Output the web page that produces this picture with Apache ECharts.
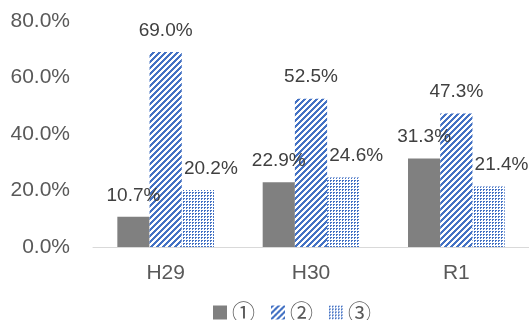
<!DOCTYPE html>
<html>
<head>
<meta charset="utf-8">
<script src="https://cdn.jsdelivr.net/npm/echarts@6/dist/echarts.min.js"></script>
<style>
html,body{margin:0;padding:0;background:#fff;}
#chart{width:529px;height:320px;}
</style>
</head>
<body>
<div id="chart"></div>
<script>
const categories = ['H29', 'H30', 'R1'];
const seriesNames = ['①', '②', '③'];
const values1 = [10.7, 22.9, 31.3];
const values2 = [69.0, 52.5, 47.3];
const values3 = [20.2, 24.6, 21.4];
const yTicks = [0, 20, 40, 60, 80];

const BLUE = '#4472C4';
function stripePattern() {
  const c = document.createElement('canvas');
  c.width = 6; c.height = 6;
  const ctx = c.getContext('2d');
  ctx.fillStyle = '#fff'; ctx.fillRect(0, 0, 6, 6);
  ctx.fillStyle = BLUE;
  for (let x = 0; x < 6; x++) for (let y = 0; y < 6; y++) {
    if ((x + y) % 6 < 3) ctx.fillRect(x, y, 1, 1);
  }
  return c;
}
function dotPattern() {
  const c = document.createElement('canvas');
  c.width = 3; c.height = 3;
  const ctx = c.getContext('2d');
  ctx.fillStyle = '#fff'; ctx.fillRect(0, 0, 3, 3);
  ctx.fillStyle = BLUE;
  ctx.fillRect(0, 0, 2, 1);
  ctx.fillRect(0, 1, 1, 1);
  return c;
}

const FONT = 'Liberation Sans';
const chart = echarts.init(document.getElementById('chart'));
const labelBase = {
  show: true, position: 'top', distance: 12,
  fontSize: 19, color: '#404040', fontFamily: FONT,
  formatter: p => p.value.toFixed(1) + '%'
};
chart.setOption({
  animation: false,
  backgroundColor: '#fff',
  grid: { left: 93, right: 0, top: 21, bottom: 73 },
  legend: {
    left: 208, top: 296,
    itemWidth: 14, itemHeight: 14, itemGap: 16,
    icon: 'rect',
    textStyle: { fontSize: 23, color: '#595959', fontFamily: 'Noto Sans CJK JP' },
    data: seriesNames
  },
  xAxis: {
    type: 'category', data: categories,
    axisLine: { lineStyle: { color: '#D9D9D9', width: 1 } },
    axisTick: { show: false },
    axisLabel: { fontSize: 21, color: '#595959', fontFamily: FONT, margin: 16 }
  },
  yAxis: {
    type: 'value', min: yTicks[0], max: yTicks[yTicks.length - 1], interval: 20,
    axisLine: { show: false }, axisTick: { show: false },
    splitLine: { show: false },
    axisLabel: { fontSize: 21, color: '#595959', fontFamily: FONT, margin: 23,
      formatter: v => v.toFixed(1) + '%' }
  },
  series: [
    { name: seriesNames[0], type: 'bar', data: values1, barGap: '0%', barCategoryGap: '33.5%',
      itemStyle: { color: '#808080' }, label: labelBase },
    { name: seriesNames[1], type: 'bar', data: values2, barGap: '0%', barCategoryGap: '33.5%',
      itemStyle: { color: { image: stripePattern(), repeat: 'repeat' } }, label: labelBase },
    { name: seriesNames[2], type: 'bar', data: values3, barGap: '0%', barCategoryGap: '33.5%',
      itemStyle: { color: { image: dotPattern(), repeat: 'repeat' } },
      label: Object.assign({}, labelBase, { offset: [13, 0] }) }
  ]
});
</script>
</body>
</html>
